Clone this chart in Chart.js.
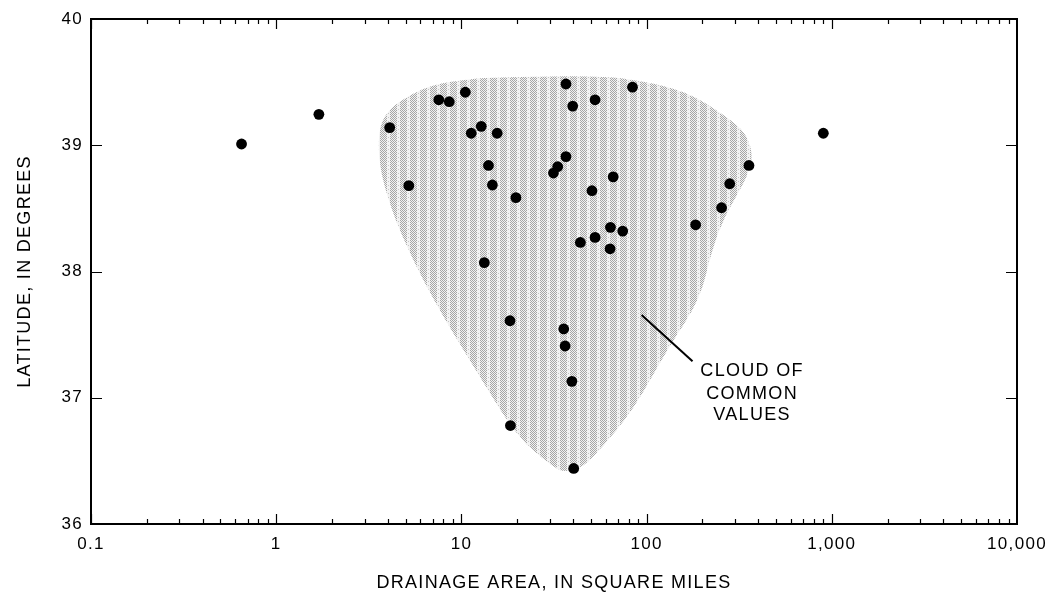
<!DOCTYPE html>
<html>
<head>
<meta charset="utf-8">
<script src="https://cdn.jsdelivr.net/npm/chart.js@4"></script>
<style>
html, body { margin: 0; background: #fff; }
#marco { width: 1047px; height: 595px; }
</style>
</head>
<body>
<div id="marco"><canvas id="grafica"></canvas></div>
<script>
// puntos: area de drenaje (mi2) y latitud (grados)
const areas = [0.65, 1.70, 4.1, 5.2, 7.55, 8.6, 10.5, 11.3, 12.8, 13.3, 14.0, 14.7, 15.6,
  18.3, 18.4, 19.7, 31.4, 33.1, 35.7, 36.3, 36.7, 36.7, 39.5, 39.9, 40.4, 43.9, 50.7,
  52.7, 52.7, 63.8, 63.5, 66, 74.3, 83.9, 184, 254, 281, 357, 900];
const lats = [39.01, 39.245, 39.14, 38.68, 39.36, 39.345, 39.42, 39.095, 39.15, 38.07, 38.84, 38.685, 39.095,
  37.61, 36.78, 38.585, 38.78, 38.83, 37.545, 37.41, 39.485, 38.91, 37.13, 39.31, 36.44, 38.23, 38.64,
  39.36, 38.27, 38.35, 38.18, 38.75, 38.32, 39.46, 38.37, 38.505, 38.695, 38.84, 39.095];

// contorno de la nube de valores comunes
const cloudArea = [3.55, 3.63, 4.12, 5.28, 7.03, 11.1, 16.2, 59.6, 100, 137, 185, 275, 340, 371, 366,
  327, 262, 225, 194, 129, 84.5, 56, 45.4, 36.3, 31.3, 20.0, 12.6, 7.03, 4.66, 3.77];
const cloudLat = [38.96, 39.16, 39.295, 39.40, 39.48, 39.525, 39.54, 39.55, 39.50, 39.455, 39.38, 39.22, 39.10, 38.96, 38.83,
  38.67, 38.43, 38.17, 37.775, 37.38, 36.90, 36.59, 36.45, 36.41, 36.45, 36.69, 37.165, 37.775, 38.305, 38.70];

const xTicks = [0.1, 1, 10, 100, 1000, 10000];
const xTickLabels = ['0.1', '1', '10', '100', '1,000', '10,000'];
const yTicks = [36, 37, 38, 39, 40];

// etiqueta de la nube
const cloudLabel = ['CLOUD OF', 'COMMON', 'VALUES'];
const labelArea = 371;
const labelLat = [37.21, 37.03, 36.86];
const leaderArea = [94, 177];
const leaderLat = [37.655, 37.29];

const FONT = '"Liberation Sans", Arial, Helvetica, sans-serif';

function makePattern(ctx) {
  const c = document.createElement('canvas');
  c.width = 10; c.height = 4;
  const p = c.getContext('2d');
  p.fillStyle = '#f2f2f2';
  p.fillRect(0, 0, 10, 4);
  p.fillStyle = '#a6a6a6';
  for (let y = 0; y < 4; y++) {
    for (let x = 0; x < 7; x++) {
      if ((x + y) % 2 === 0) p.fillRect(x, y, 1, 1);
    }
  }
  p.fillStyle = '#c4c4c4';
  p.fillRect(8, 1, 1, 1);
  return ctx.createPattern(c, 'repeat');
}

// espaciado de letras como en el original
const espaciado = {
  id: 'espaciado',
  beforeUpdate(chart) { chart.ctx.letterSpacing = '1.3px'; },
  beforeDraw(chart) { chart.ctx.letterSpacing = '1.3px'; }
};

// nube sombreada
const nube = {
  id: 'nube',
  beforeDatasetsDraw(chart) {
    const {ctx, scales: {x, y}} = chart;
    const pts = cloudArea.map((a, i) => [x.getPixelForValue(a), y.getPixelForValue(cloudLat[i])]);
    const n = pts.length;
    ctx.save();
    ctx.beginPath();
    const mid = (p, q) => [(p[0] + q[0]) / 2, (p[1] + q[1]) / 2];
    let m0 = mid(pts[n - 1], pts[0]);
    ctx.moveTo(m0[0], m0[1]);
    for (let i = 0; i < n; i++) {
      const m = mid(pts[i], pts[(i + 1) % n]);
      ctx.quadraticCurveTo(pts[i][0], pts[i][1], m[0], m[1]);
    }
    ctx.closePath();
    ctx.fillStyle = makePattern(ctx);
    ctx.fill();
    ctx.restore();
  },
  afterDatasetsDraw(chart) {
    const {ctx, scales: {x, y}} = chart;
    ctx.save();
    ctx.strokeStyle = '#000';
    ctx.lineWidth = 2;
    ctx.beginPath();
    ctx.moveTo(x.getPixelForValue(leaderArea[0]), y.getPixelForValue(leaderLat[0]));
    ctx.lineTo(x.getPixelForValue(leaderArea[1]), y.getPixelForValue(leaderLat[1]));
    ctx.stroke();
    ctx.fillStyle = '#000';
    ctx.font = '18px ' + FONT;
    ctx.letterSpacing = '1.3px';
    ctx.textAlign = 'center';
    ctx.textBaseline = 'middle';
    cloudLabel.forEach((t, i) => {
      ctx.fillText(t, x.getPixelForValue(labelArea), y.getPixelForValue(labelLat[i]));
    });
    ctx.restore();
  }
};

// marco y marcas hacia adentro
const marco = {
  id: 'marco',
  afterDraw(chart) {
    const {ctx, chartArea: a, scales: {x, y}} = chart;
    ctx.save();
    ctx.strokeStyle = '#000';
    ctx.lineWidth = 2;
    ctx.strokeRect(a.left, a.top, a.right - a.left, a.bottom - a.top);
    ctx.lineWidth = 1.2;
    ctx.beginPath();
    for (let d = 0.1; d < 5000; d *= 10) {
      for (let m = 1; m <= 9; m++) {
        const v = d * m;
        const px = Math.round(x.getPixelForValue(v)) + 0.5;
        const len = m === 1 ? 10 : 5;
        ctx.moveTo(px, a.bottom); ctx.lineTo(px, a.bottom - len);
        ctx.moveTo(px, a.top); ctx.lineTo(px, a.top + len);
      }
    }
    yTicks.forEach(v => {
      const py = Math.round(y.getPixelForValue(v)) + 0.5;
      ctx.moveTo(a.left, py); ctx.lineTo(a.left + 11, py);
      ctx.moveTo(a.right, py); ctx.lineTo(a.right - 11, py);
    });
    ctx.stroke();
    ctx.restore();
  }
};

document.addEventListener('DOMContentLoaded', () => {
  const ctx = document.getElementById('grafica').getContext('2d');
  new Chart(ctx, {
    type: 'scatter',
    data: {
      datasets: [{
        label: 'Estaciones',
        data: areas.map((a, i) => ({x: a, y: lats[i]})),
        backgroundColor: '#000',
        borderWidth: 0,
        pointRadius: 5.4
      }]
    },
    options: {
      responsive: true,
      maintainAspectRatio: false,
      animation: false,
      layout: {padding: {top: 19, right: 30, bottom: 0, left: 0}},
      plugins: {legend: {display: false}, tooltip: {enabled: false}},
      scales: {
        x: {
          type: 'logarithmic',
          min: 0.1,
          max: 10000,
          afterBuildTicks: s => { s.ticks = xTicks.map(v => ({value: v})); },
          afterFit: s => { s.height = 71; s.paddingRight = 0; s.paddingLeft = 0; },
          grid: {display: false, drawTicks: false},
          border: {display: false},
          ticks: {
            color: '#000',
            padding: 10,
            maxRotation: 0,
            autoSkip: false,
            font: {family: FONT, size: 17},
            callback: (v) => xTickLabels[xTicks.indexOf(v)]
          },
          title: {
            display: true,
            text: 'DRAINAGE AREA, IN SQUARE MILES',
            color: '#000',
            font: {family: FONT, size: 18},
            padding: {top: 0, bottom: 1}
          }
        },
        y: {
          min: 36,
          max: 40,
          afterBuildTicks: s => { s.ticks = yTicks.map(v => ({value: v})); },
          afterFit: s => { s.width = 91; },
          grid: {display: false, drawTicks: false},
          border: {display: false},
          ticks: {
            color: '#000',
            padding: 8,
            font: {family: FONT, size: 17}
          },
          title: {
            display: true,
            text: 'LATITUDE, IN DEGREES',
            color: '#000',
            font: {family: FONT, size: 18},
            padding: {top: 14, bottom: 0}
          }
        }
      }
    },
    plugins: [espaciado, nube, marco]
  });
});
</script>
</body>
</html>
